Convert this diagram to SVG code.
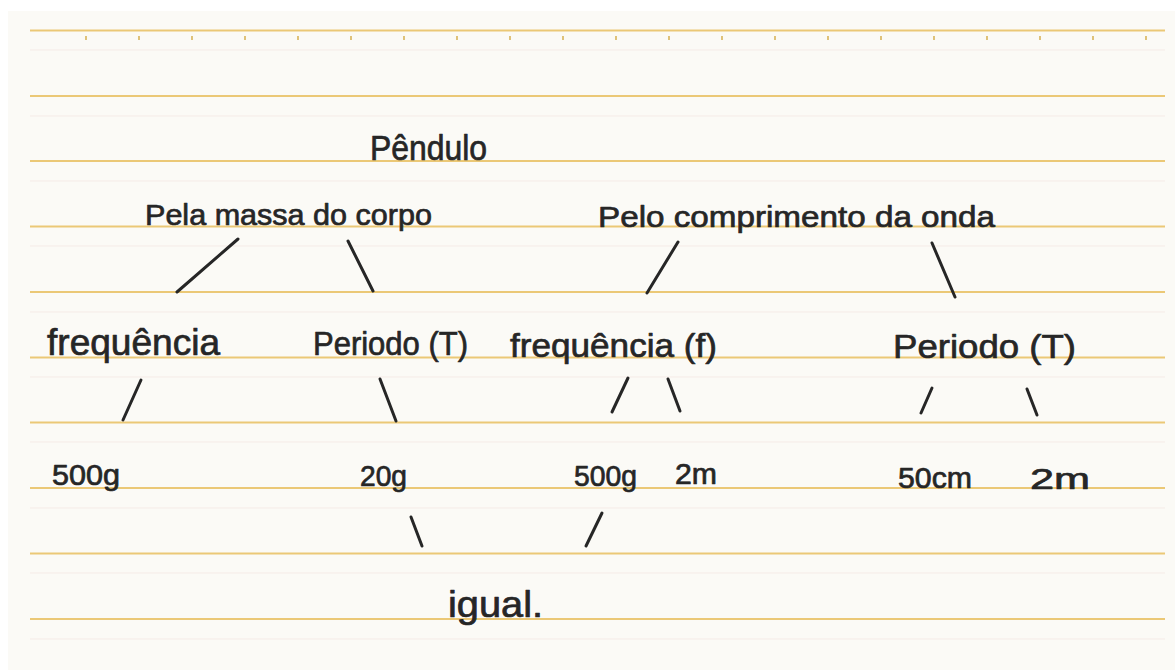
<svg xmlns="http://www.w3.org/2000/svg" width="1175" height="670" viewBox="0 0 1175 670">
  <style>
    .rule { stroke: #ebc876; stroke-width: 2.2; fill: none; }
    .faint { stroke: #f5ebe7; stroke-width: 1; fill: none; }
    .tick { stroke: #d8b45c; stroke-width: 1.6; }
    .lbl { font-family: "Liberation Sans", Arial, sans-serif; fill: #262626; stroke: #262626; stroke-width: 0.7; stroke-linejoin: round; }
    .con line { stroke: #262626; stroke-width: 3; stroke-linecap: round; }
  </style>
  <rect x="0" y="0" width="1175" height="670" fill="#ffffff"/>
  <rect x="8" y="11" width="1167" height="659" fill="#fbfaf6"/>
  <g id="paper">
    <g class="faint">
      <line x1="30" y1="50" x2="1165" y2="50"/>
      <line x1="30" y1="116" x2="1165" y2="116"/>
      <line x1="30" y1="181" x2="1165" y2="181"/>
      <line x1="30" y1="246" x2="1165" y2="246"/>
      <line x1="30" y1="312" x2="1165" y2="312"/>
      <line x1="30" y1="377" x2="1165" y2="377"/>
      <line x1="30" y1="442" x2="1165" y2="442"/>
      <line x1="30" y1="508" x2="1165" y2="508"/>
      <line x1="30" y1="573" x2="1165" y2="573"/>
      <line x1="30" y1="639" x2="1165" y2="639"/>
    </g>
    <g class="rule">
      <line x1="30" y1="30.5" x2="1165" y2="30.5"/>
      <line x1="30" y1="96" x2="1165" y2="96"/>
      <line x1="30" y1="161" x2="1165" y2="161"/>
      <line x1="30" y1="226.5" x2="1165" y2="226.5"/>
      <line x1="30" y1="292" x2="1165" y2="292"/>
      <line x1="30" y1="357.5" x2="1165" y2="357.5"/>
      <line x1="30" y1="422.5" x2="1165" y2="422.5"/>
      <line x1="30" y1="488" x2="1165" y2="488"/>
      <line x1="30" y1="553.5" x2="1165" y2="553.5"/>
      <line x1="30" y1="619" x2="1165" y2="619"/>
    </g>
    <g class="tick">
      <line x1="86" y1="36" x2="86" y2="40"/>
      <line x1="139" y1="36" x2="139" y2="40"/>
      <line x1="192" y1="36" x2="192" y2="40"/>
      <line x1="245" y1="36" x2="245" y2="40"/>
      <line x1="298" y1="36" x2="298" y2="40"/>
      <line x1="351" y1="36" x2="351" y2="40"/>
      <line x1="404" y1="36" x2="404" y2="40"/>
      <line x1="457" y1="36" x2="457" y2="40"/>
      <line x1="510" y1="36" x2="510" y2="40"/>
      <line x1="563" y1="36" x2="563" y2="40"/>
      <line x1="616" y1="36" x2="616" y2="40"/>
      <line x1="669" y1="36" x2="669" y2="40"/>
      <line x1="722" y1="36" x2="722" y2="40"/>
      <line x1="775" y1="36" x2="775" y2="40"/>
      <line x1="828" y1="36" x2="828" y2="40"/>
      <line x1="881" y1="36" x2="881" y2="40"/>
      <line x1="934" y1="36" x2="934" y2="40"/>
      <line x1="987" y1="36" x2="987" y2="40"/>
      <line x1="1040" y1="36" x2="1040" y2="40"/>
      <line x1="1093" y1="36" x2="1093" y2="40"/>
      <line x1="1146" y1="36" x2="1146" y2="40"/>
    </g>
  </g>

  <g id="connectors" class="con">
    <line x1="238" y1="239" x2="177" y2="292"/>
    <line x1="348" y1="241" x2="373" y2="291"/>
    <line x1="678" y1="242" x2="647" y2="293"/>
    <line x1="932" y1="243" x2="955" y2="297"/>
    <line x1="141" y1="380" x2="123" y2="420"/>
    <line x1="380" y1="379" x2="396" y2="421"/>
    <line x1="628" y1="378" x2="612" y2="412"/>
    <line x1="668" y1="379" x2="680" y2="411"/>
    <line x1="932" y1="388" x2="921" y2="413"/>
    <line x1="1027" y1="389" x2="1037" y2="415"/>
    <line x1="411" y1="517" x2="422" y2="546"/>
    <line x1="602" y1="513" x2="586" y2="546"/>
  </g>

  <g id="n-pendulo"><text class="lbl" x="370" y="160" font-size="35" textLength="117" lengthAdjust="spacingAndGlyphs">Pêndulo</text></g>
  <g id="n-massa"><text class="lbl" x="145" y="225" font-size="30" textLength="287" lengthAdjust="spacingAndGlyphs">Pela massa do corpo</text></g>
  <g id="n-comprimento"><text class="lbl" x="598" y="227" font-size="30" textLength="397" lengthAdjust="spacingAndGlyphs">Pelo comprimento da onda</text></g>
  <g id="n-freq1"><text class="lbl" x="47" y="355" font-size="36" textLength="173" lengthAdjust="spacingAndGlyphs">frequência</text></g>
  <g id="n-periodo1"><text class="lbl" x="313" y="355" font-size="33" textLength="155" lengthAdjust="spacingAndGlyphs">Periodo (T)</text></g>
  <g id="n-freq2"><text class="lbl" x="510" y="357" font-size="34" textLength="207" lengthAdjust="spacingAndGlyphs">frequência (f)</text></g>
  <g id="n-periodo2"><text class="lbl" x="893" y="358" font-size="34" textLength="183" lengthAdjust="spacingAndGlyphs">Periodo (T)</text></g>
  <g id="n-500g-1"><text class="lbl" x="52" y="485" font-size="29" textLength="68" lengthAdjust="spacingAndGlyphs">500g</text></g>
  <g id="n-20g"><text class="lbl" x="360" y="486" font-size="29" textLength="47" lengthAdjust="spacingAndGlyphs">20g</text></g>
  <g id="n-500g-2"><text class="lbl" x="574" y="486" font-size="29" textLength="63" lengthAdjust="spacingAndGlyphs">500g</text></g>
  <g id="n-2m-1"><text class="lbl" x="675" y="484" font-size="29" textLength="42" lengthAdjust="spacingAndGlyphs">2m</text></g>
  <g id="n-50cm"><text class="lbl" x="898" y="488" font-size="30" textLength="74" lengthAdjust="spacingAndGlyphs">50cm</text></g>
  <g id="n-2m-2"><text class="lbl" x="1030" y="489" font-size="30" textLength="60" lengthAdjust="spacingAndGlyphs">2m</text></g>
  <g id="n-igual"><text class="lbl" x="448" y="617" font-size="36" textLength="95" lengthAdjust="spacingAndGlyphs">igual.</text></g>
</svg>
